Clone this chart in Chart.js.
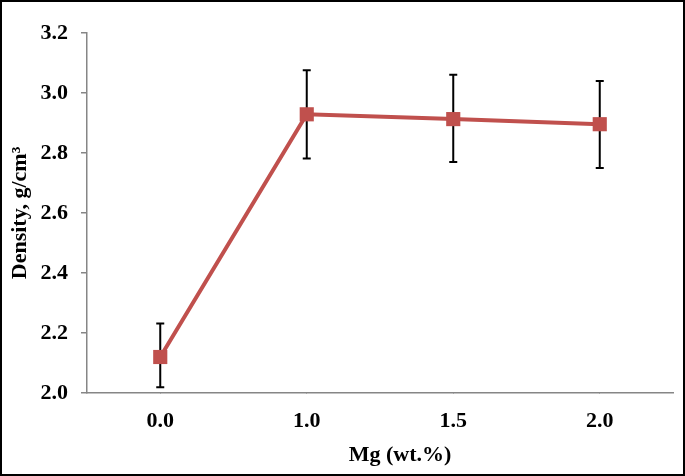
<!DOCTYPE html>
<html><head><meta charset="utf-8">
<script src="https://cdn.jsdelivr.net/npm/chart.js@4"></script>
<style>html,body{margin:0;padding:0;background:#fff}#wrap{width:685px;height:476px;position:relative}</style>
</head><body><div id="wrap"><canvas id="c" width="685" height="476"></canvas></div>
<script>
const categories = ['0.0', '1.0', '1.5', '2.0'];
const density = [2.12, 2.929, 2.913, 2.896];
const errLow = [2.019, 2.782, 2.77, 2.75];
const errHigh = [2.232, 3.076, 3.061, 3.04];
const yTicks = [2.0, 2.2, 2.4, 2.6, 2.8, 3.0, 3.2];
const xTitle = 'Mg (wt.%)';
const yTitle = 'Density, g/cm³';

const font = { family: "'Liberation Serif', 'Times New Roman', serif", weight: 'bold', size: 22 };

const errorBars = {
  id: 'errorBars',
  beforeDatasetsDraw(chart) {
    const ctx = chart.ctx, x = chart.scales.x, y = chart.scales.y;
    ctx.save();
    ctx.strokeStyle = '#000';
    ctx.lineWidth = 2;
    categories.forEach((c, i) => {
      const px = x.getPixelForValue(i);
      const t = y.getPixelForValue(errHigh[i]);
      const b = y.getPixelForValue(errLow[i]);
      ctx.beginPath();
      ctx.moveTo(px, t); ctx.lineTo(px, b);
      ctx.moveTo(px - 4, t); ctx.lineTo(px + 4, t);
      ctx.moveTo(px - 4, b); ctx.lineTo(px + 4, b);
      ctx.stroke();
    });
    ctx.restore();
  }
};
const frame = {
  id: 'frame',
  afterDraw(chart) {
    const ctx = chart.ctx;
    ctx.save();
    ctx.fillStyle = '#000';
    ctx.font = `bold ${font.size}px ${font.family}`;
    ctx.textAlign = 'center';
    ctx.textBaseline = 'middle';
    ctx.fillText(xTitle, 400, 455);
    ctx.strokeStyle = '#000';
    ctx.lineWidth = 2;
    ctx.strokeRect(1, 1, chart.width - 2, chart.height - 2);
    ctx.restore();
  }
};

new Chart(document.getElementById('c'), {
  type: 'line',
  data: {
    labels: categories,
    datasets: [{
      data: density,
      borderColor: '#C0504D',
      backgroundColor: '#C0504D',
      borderWidth: 4,
      pointStyle: 'rect',
      pointRadius: 10,
      pointBorderWidth: 0,
      tension: 0
    }]
  },
  options: {
    responsive: false,
    animation: false,
    devicePixelRatio: 1,
    layout: { padding: { left: 0, right: 12, top: 33, bottom: 0 } },
    plugins: { legend: { display: false }, tooltip: { enabled: false } },
    scales: {
      x: {
        type: 'category',
        offset: true,
        grid: { display: true, drawOnChartArea: false, drawTicks: true, tickLength: 0, color: '#868686' },
        border: { display: true, color: '#868686', width: 1.5 },
        ticks: { color: '#000', font, padding: 15 },
        title: { display: false },
        afterFit(s) { s.height = 83; }
      },
      y: {
        min: 2.0, max: 3.2,
        afterBuildTicks(s) { s.ticks = yTicks.map(v => ({ value: v })); },
        grid: { display: true, drawOnChartArea: false, drawTicks: true, tickLength: 6, color: '#868686', lineWidth: 1.5 },
        border: { display: true, color: '#868686', width: 1.5 },
        ticks: { color: '#000', font, padding: 13, callback: v => Number(v).toFixed(1) },
        title: { display: true, text: yTitle, color: '#000', font, padding: { top: 7, bottom: 0 } },
        afterFit(s) { s.width = 87; }
      }
    }
  },
  plugins: [errorBars, frame]
});
</script></body></html>
